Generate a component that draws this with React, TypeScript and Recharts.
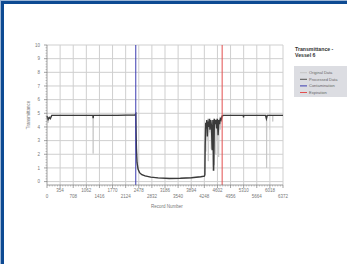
import { LineChart, Line, XAxis, YAxis, ReferenceLine } from 'recharts';

// record numbers / transmittance
const processedRecords = [0, 30, 60, 90, 130, 600, 1240, 1246, 1252, 1900, 2380, 2397, 2405, 2415, 2430, 2460, 2500, 2560, 2650, 2800, 3000, 3300, 3600, 3900, 4150, 4250, 4262, 4270, 4285, 4300, 4315, 4330, 4345, 4360, 4380, 4400, 4420, 4440, 4460, 4480, 4500, 4520, 4540, 4560, 4580, 4600, 4620, 4640, 4660, 4680, 4700, 4729, 4760, 5300, 5306, 5312, 5900, 5924, 5948, 6372];
const processedValues = [4.8, 4.55, 4.7, 4.6, 4.85, 4.85, 4.85, 4.65, 4.85, 4.85, 4.88, 4.95, 3.6, 2.4, 1.4, 0.9, 0.65, 0.5, 0.42, 0.33, 0.27, 0.23, 0.24, 0.28, 0.35, 0.4, 0.5, 2.6, 4.3, 3.9, 4.5, 3.3, 4.4, 4.0, 4.6, 3.8, 4.5, 4.1, 2.3, 4.5, 0.8, 4.6, 4.2, 4.5, 3.9, 4.6, 3.4, 4.5, 4.2, 4.6, 4.5, 4.8, 4.85, 4.85, 4.7, 4.85, 4.85, 4.6, 4.85, 4.85];

const originalRecords = [0, 30, 60, 130, 1240, 1246, 1252, 2380, 2397, 2410, 2440, 2500, 2650, 3000, 3600, 4150, 4262, 4272, 4290, 4305, 4320, 4340, 4355, 4375, 4395, 4415, 4435, 4455, 4475, 4495, 4515, 4535, 4555, 4575, 4595, 4615, 4635, 4655, 4675, 4700, 4729, 4760, 5924, 5930, 5936, 6090, 6096, 6102, 6372];
const originalValues = [4.8, 4.3, 4.7, 4.85, 4.85, 2.05, 4.85, 4.88, 4.95, 2.2, 1.1, 0.6, 0.4, 0.26, 0.23, 0.34, 0.45, 4.0, 2.2, 4.5, 3.0, 4.6, 1.5, 4.4, 3.6, 4.6, 2.4, 4.5, 0.8, 4.6, 1.2, 4.4, 2.0, 4.6, 3.0, 4.5, 1.8, 4.6, 3.8, 4.6, 4.8, 4.85, 4.85, 1.0, 4.85, 4.85, 4.4, 4.85, 4.85];

const contaminationRecord = 2397;
const expirationRecord = 4729;

const xMajorTicks = [0, 354, 708, 1062, 1416, 1770, 2124, 2478, 2832, 3186, 3540, 3894, 4248, 4602, 4956, 5310, 5664, 6018, 6372];
const yMajorTicks = [0, 1, 2, 3, 4, 5, 6, 7, 8, 9, 10];

const legendItems = [
  { label: 'Original Data', color: '#c4c4c4' },
  { label: 'Processed Data', color: '#555' },
  { label: 'Contamination', color: '#3b3bb0' },
  { label: 'Expiration', color: '#e24f4f' },
];

const processed = processedRecords.map((r, i) => ({ record: r, value: processedValues[i] }));
const original = originalRecords.map((r, i) => ({ record: r, value: originalValues[i] }));

const subdivide = (ticks: number[], n: number) =>
  ticks.slice(0, -1).flatMap((t, i) => Array.from({ length: n - 1 }, (_, k) => t + ((k + 1) * (ticks[i + 1] - t)) / n));

const xAllTicks = [...xMajorTicks, ...subdivide(xMajorTicks, 5)].sort((a, b) => a - b);
const yAllTicks = [...yMajorTicks, ...subdivide(yMajorTicks, 5)].sort((a, b) => a - b);

const XTick = (props: any) => {
  const { x, y, payload } = props;
  const i = xMajorTicks.indexOf(payload.value);
  if (i < 0) return <line x1={x} x2={x} y1={y} y2={y + 1.5} stroke="#888" strokeWidth={0.5} />;
  return (
    <g>
      <line x1={x} x2={x} y1={y} y2={y + 3} stroke="#666" strokeWidth={0.6} />
      <text x={x} y={y + (i % 2 === 0 ? 12.5 : 7)} textAnchor="middle" fontSize={4.5} fill="#777">
        {payload.value}
      </text>
    </g>
  );
};

const YTick = (props: any) => {
  const { x, y, payload } = props;
  const isMajor = yMajorTicks.includes(payload.value);
  if (!isMajor) return <line x1={x - 1.5} x2={x} y1={y} y2={y} stroke="#888" strokeWidth={0.5} />;
  return (
    <g>
      <line x1={x - 3} x2={x} y1={y} y2={y} stroke="#666" strokeWidth={0.6} />
      <text x={x - 7} y={y + 1.6} textAnchor="end" fontSize={4.5} fill="#777">
        {payload.value}
      </text>
    </g>
  );
};

export default function App() {
  return (
    <div style={{ position: 'fixed', left: 0, top: 0, width: 347, height: 264, background: '#fff', overflow: 'hidden', fontFamily: '"Liberation Sans", Arial, sans-serif' }}>
      {/* blue frame */}
      <div style={{ position: 'absolute', left: 0, top: 0, width: 400, height: 300, borderTop: '1px solid #9db6d6', borderLeft: '1px solid #9db6d6' }} />
      <div style={{ position: 'absolute', left: 1, top: 1, width: 400, height: 300, borderTop: '3px solid #0d4a93', borderLeft: '3px solid #0d4a93' }} />

      <div style={{ position: 'absolute', left: 0, top: 0 }}>
        <LineChart width={290} height={200} margin={{ top: 45, right: 7, left: 0, bottom: 0 }}>
          <XAxis
            dataKey="record"
            type="number"
            domain={[0, 6372]}
            ticks={xAllTicks}
            interval={0}
            height={15}
            tickSize={0}
            tickMargin={0}
            tick={<XTick />}
            stroke="#777"
            strokeWidth={0.7}
            allowDuplicatedCategory={false}
          />
          <YAxis
            type="number"
            domain={[-0.25, 10]}
            ticks={yAllTicks}
            interval={0}
            width={47}
            tickSize={0}
            tickMargin={0}
            tick={<YTick />}
            stroke="#777"
            strokeWidth={0.7}
            allowDataOverflow
          />
          {xMajorTicks.slice(1).map((t) => (
            <ReferenceLine key={'gx' + t} x={t} stroke="#cfcfcf" strokeWidth={1} />
          ))}
          {yMajorTicks.map((t) => (
            <ReferenceLine key={'gy' + t} y={t} stroke="#cfcfcf" strokeWidth={1} />
          ))}
          <Line data={original} dataKey="value" type="linear" stroke="#c4c4c4" strokeWidth={0.8} dot={false} isAnimationActive={false} />
          <Line data={processed} dataKey="value" type="linear" stroke="#3a3a3a" strokeWidth={1.4} dot={false} isAnimationActive={false} />
          <ReferenceLine x={contaminationRecord} stroke="#3b3bb0" strokeWidth={1} />
          <ReferenceLine x={expirationRecord} stroke="#e24f4f" strokeWidth={1} />
        </LineChart>
      </div>

      <svg width={347} height={264} style={{ position: 'absolute', left: 0, top: 0, pointerEvents: 'none' }}>
        <text x={29} y={115} fontSize={4.5} fill="#777" textAnchor="middle" transform="rotate(-90 29 115)" dominantBaseline="middle">
          Transmittance
        </text>
        <text x={167} y={207.5} fontSize={4.5} fill="#777" textAnchor="middle">
          Record Number
        </text>
        <text x={295} y={50.5} fontSize={5.2} fill="#333" fontWeight="bold">Transmittance -</text>
        <text x={295} y={56.5} fontSize={5.2} fill="#333" fontWeight="bold">Vessel 6</text>
        <rect x={294} y={66} width={60} height={31} fill="#dcdde2" />
        {legendItems.map((item, i) => (
          <g key={item.label}>
            <line x1={300} x2={307} y1={72.7 + i * 6.6} y2={72.7 + i * 6.6} stroke={item.color} strokeWidth={1} />
            <text x={309} y={74.2 + i * 6.6} fontSize={4} fill="#666">{item.label}</text>
          </g>
        ))}
      </svg>
    </div>
  );
}
